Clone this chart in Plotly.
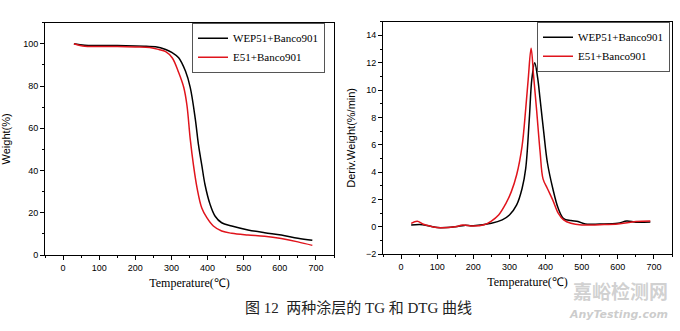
import plotly.graph_objects as go

# TG data (left)
tg_wep_x = [30, 60, 100, 150, 200, 230, 256, 284, 302, 320, 339, 352, 366, 375, 384, 393, 407, 421, 439, 467, 512, 558, 604, 650, 690]
tg_wep_y = [100, 99.3, 99.2, 99.2, 99.0, 98.8, 98.6, 97.3, 95.8, 93.4, 87, 79.4, 64.5, 52, 42.6, 33.3, 24, 18.4, 15.3, 13.75, 11.9, 10.6, 9.5, 8.0, 7.0]
tg_e51_x = [30, 60, 100, 150, 200, 240, 265, 284, 302, 320, 334, 343, 352, 361, 371, 384, 398, 416, 439, 467, 512, 558, 604, 650, 690]
tg_e51_y = [100, 98.8, 98.7, 98.7, 98.5, 98.2, 97.3, 96.3, 93.4, 86.4, 79.4, 70.8, 55, 42.6, 31.7, 22.3, 17.7, 13.75, 11.4, 10.3, 9.5, 8.9, 7.8, 6.25, 4.6]

# DTG data (right)
dtg_wep_x = [28, 60, 100, 150, 175, 200, 250, 280, 300, 320, 335, 345, 355, 362, 370, 378, 385, 395, 405, 420, 435, 450, 470, 490, 510, 550, 600, 625, 650, 690]
dtg_wep_y = [0.13, 0.15, -0.06, 0.0, 0.1, 0.08, 0.25, 0.5, 0.86, 1.6, 2.8, 4.25, 7.9, 10.8, 12.0, 10.9, 9.3, 6.9, 4.7, 2.8, 1.35, 0.6, 0.45, 0.38, 0.2, 0.2, 0.25, 0.42, 0.33, 0.35]
dtg_e51_x = [28, 45, 60, 80, 100, 150, 170, 200, 230, 250, 270, 290, 305, 320, 335, 345, 352, 360, 367, 375, 385, 393, 405, 420, 435, 450, 470, 500, 550, 600, 650, 690]
dtg_e51_y = [0.25, 0.4, 0.2, 0.05, -0.05, 0.0, 0.12, 0.05, 0.15, 0.42, 0.86, 1.7, 2.55, 3.8, 5.9, 8.6, 10.8, 13.05, 11.0, 8.6, 5.45, 3.5, 2.8, 1.95, 1.0, 0.5, 0.25, 0.13, 0.15, 0.2, 0.38, 0.42]

x_ticks = [0, 100, 200, 300, 400, 500, 600, 700]
tg_ticks = [0, 20, 40, 60, 80, 100]
dtg_ticks = [-2, 0, 2, 4, 6, 8, 10, 12, 14]

BLACK = "#000000"
RED = "#e0141c"
SERIF = "Liberation Serif, Times New Roman, serif"
SANS = "Liberation Sans, Arial, sans-serif"

fig = go.Figure()
fig.add_trace(go.Scatter(x=tg_wep_x, y=tg_wep_y, mode="lines", name="WEP51+Banco901",
                         line=dict(color=BLACK, width=1.5, shape="spline"), xaxis="x", yaxis="y", legend="legend"))
fig.add_trace(go.Scatter(x=tg_e51_x, y=tg_e51_y, mode="lines", name="E51+Banco901",
                         line=dict(color=RED, width=1.5, shape="spline"), xaxis="x", yaxis="y", legend="legend"))
fig.add_trace(go.Scatter(x=dtg_wep_x, y=dtg_wep_y, mode="lines", name="WEP51+Banco901",
                         line=dict(color=BLACK, width=1.5, shape="spline"), xaxis="x2", yaxis="y2", legend="legend2"))
fig.add_trace(go.Scatter(x=dtg_e51_x, y=dtg_e51_y, mode="lines", name="E51+Banco901",
                         line=dict(color=RED, width=1.5, shape="spline"), xaxis="x2", yaxis="y2", legend="legend2"))

W, H = 680, 331
def px_x(p): return p / W
def px_y(p): return (H - p) / H

axis_common = dict(showline=True, linecolor="black", linewidth=1, mirror=True,
                   ticks="outside", ticklen=4, tickcolor="black", showgrid=False, zeroline=False,
                   tickfont=dict(family=SANS, size=9, color="black"))

xaxis_common = dict(axis_common, range=[-50, 750], tickvals=x_ticks,
                    minor=dict(ticks="outside", ticklen=2, dtick=50, tick0=0, tickcolor="black"))

legend_common = dict(xanchor="right", yanchor="top",
                     bgcolor="white", bordercolor="#555555", borderwidth=1,
                     font=dict(family=SERIF, size=11, color="black"), tracegroupgap=0,
                     itemwidth=30)

fig.update_layout(
    width=W, height=H, margin=dict(l=0, r=0, t=0, b=0),
    paper_bgcolor="white", plot_bgcolor="white",
    xaxis=dict(xaxis_common, domain=[px_x(45), px_x(334)], anchor="y",
               title=dict(text="Temperature(℃)", font=dict(family=SERIF, size=12, color="black"), standoff=6)),
    yaxis=dict(axis_common, domain=[px_y(259), px_y(23)], anchor="x", range=[0, 110], tickvals=tg_ticks,
               minor=dict(ticks="outside", ticklen=2, dtick=10, tick0=0, tickcolor="black"),
               title=dict(text="Weight(%)", font=dict(family=SANS, size=11, color="black"), standoff=10)),
    xaxis2=dict(xaxis_common, domain=[px_x(383), px_x(672)], anchor="y2",
                title=dict(text="Temperature(℃)", font=dict(family=SERIF, size=12, color="black"), standoff=6)),
    yaxis2=dict(axis_common, domain=[px_y(258), px_y(22)], anchor="x2", range=[-2, 15], tickvals=dtg_ticks,
                minor=dict(ticks="outside", ticklen=2, dtick=1, tick0=0, tickcolor="black"),
                title=dict(text="Deriv.Weight(%/min)", font=dict(family=SANS, size=11, color="black"), standoff=8)),
    legend=dict(legend_common, x=px_x(325), y=px_y(23)),
    legend2=dict(legend_common, x=px_x(670), y=px_y(22)),
    showlegend=True,
)

fig.add_annotation(text="图 12  两种涂层的 TG 和 DTG 曲线", x=px_x(358), y=px_y(313),
                   xref="paper", yref="paper", showarrow=False, xanchor="center", yanchor="middle",
                   font=dict(family="Liberation Serif, Noto Sans CJK SC", size=15, color="#222222"))
fig.add_annotation(text="<b>嘉峪检测网</b>", x=px_x(620), y=px_y(295),
                   xref="paper", yref="paper", showarrow=False, xanchor="center", yanchor="middle",
                   font=dict(family="Noto Sans CJK SC", size=19, color="rgba(170,170,170,0.55)"))
fig.add_annotation(text="<b><i>AnyTesting.com</i></b>", x=px_x(618), y=px_y(319),
                   xref="paper", yref="paper", showarrow=False, xanchor="center", yanchor="middle",
                   font=dict(family="DejaVu Sans, sans-serif", size=11, color="rgba(170,170,170,0.6)"))

fig.write_html("out.html")
